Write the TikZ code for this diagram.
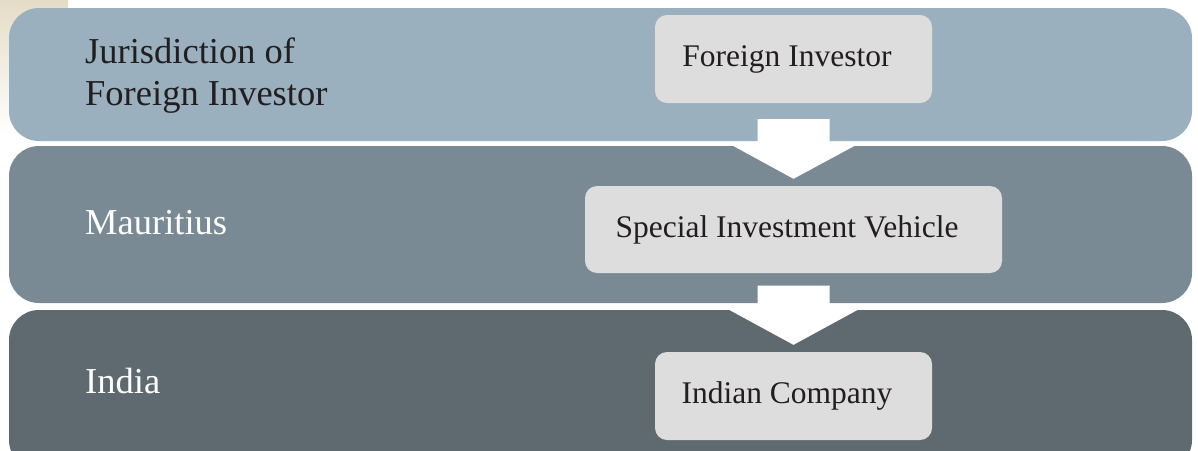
\documentclass[tikz,border=0pt]{standalone}
\usepackage{fontspec}
\setmainfont{Liberation Serif}
\usetikzlibrary{calc}

\definecolor{bandtop}{RGB}{154,176,190}
\definecolor{bandmid}{RGB}{121,138,148}
\definecolor{bandlow}{RGB}{95,106,112}
\definecolor{boxgrey}{RGB}{221,221,221}
\definecolor{beige}{RGB}{229,220,198}
\definecolor{inkdark}{RGB}{34,30,31}

\begin{document}
\begin{tikzpicture}[x=1pt,y=-1pt,
		band/.style={rounded corners=30pt},
		entity/.style={fill=boxgrey,rounded corners=12pt,minimum width=277pt,minimum height=88pt,inner sep=0pt,text=inkdark,font=\fontsize{31.5}{36}\selectfont,execute at end node={\hspace*{13pt}}},
		region/.style={inner sep=0pt,font=\fontsize{36.5}{42}\selectfont,align=left},
		flow/.style={fill=white}]
		\useasboundingbox (0,0) rectangle (1198,450);
		\clip (0,0) rectangle (1198,450);
		\shade [top color=beige,middle color=beige,bottom color=white] (0,0) rectangle (68,136);
		% the three layers
		\fill [band,bandtop] (9,8) rectangle (1192,141);
		\fill [band,bandmid] (9,146) rectangle (1192,303);
		\fill [band,bandlow] (9,310) rectangle (1192,470);
		\node [region,text=inkdark,anchor=north west] (jur) at (85,38) {Jurisdiction of\\Foreign Investor};
		\node [region,text=white,anchor=base west] (mau) at (85,234) {Mauritius};
		\node [region,text=white,anchor=base west] (ind) at (85,393) {India};
		\node [entity] (fi) at (793.5,59) {Foreign Investor};
		\node [entity,minimum width=417pt,minimum height=87pt] (spv) at (793.5,229.5) {Special Investment Vehicle};
		\node [entity] (ic) at (793.5,396) {Indian Company};
		% block arrows between the entities
		\coordinate (a1) at ($(fi.south)+(0,16)$);
		\coordinate (a1tip) at ($(spv.north)+(0,-7)$);
		\fill [flow] (a1) ++(-36,0) -- ++(72,0) -- ++(0,24) -- ++(30,0) -- (a1tip) -- ++(-66,-36) -- ++(30,0) -- cycle;
		\coordinate (a2) at ($(spv.south)+(0,12.5)$);
		\coordinate (a2tip) at ($(ic.north)+(0,-7)$);
		\fill [flow] (a2) ++(-36,0) -- ++(72,0) -- ++(0,21) -- ++(34,0) -- (a2tip) -- ++(-70,-38) -- ++(34,0) -- cycle;
	\end{tikzpicture}
\end{document}
